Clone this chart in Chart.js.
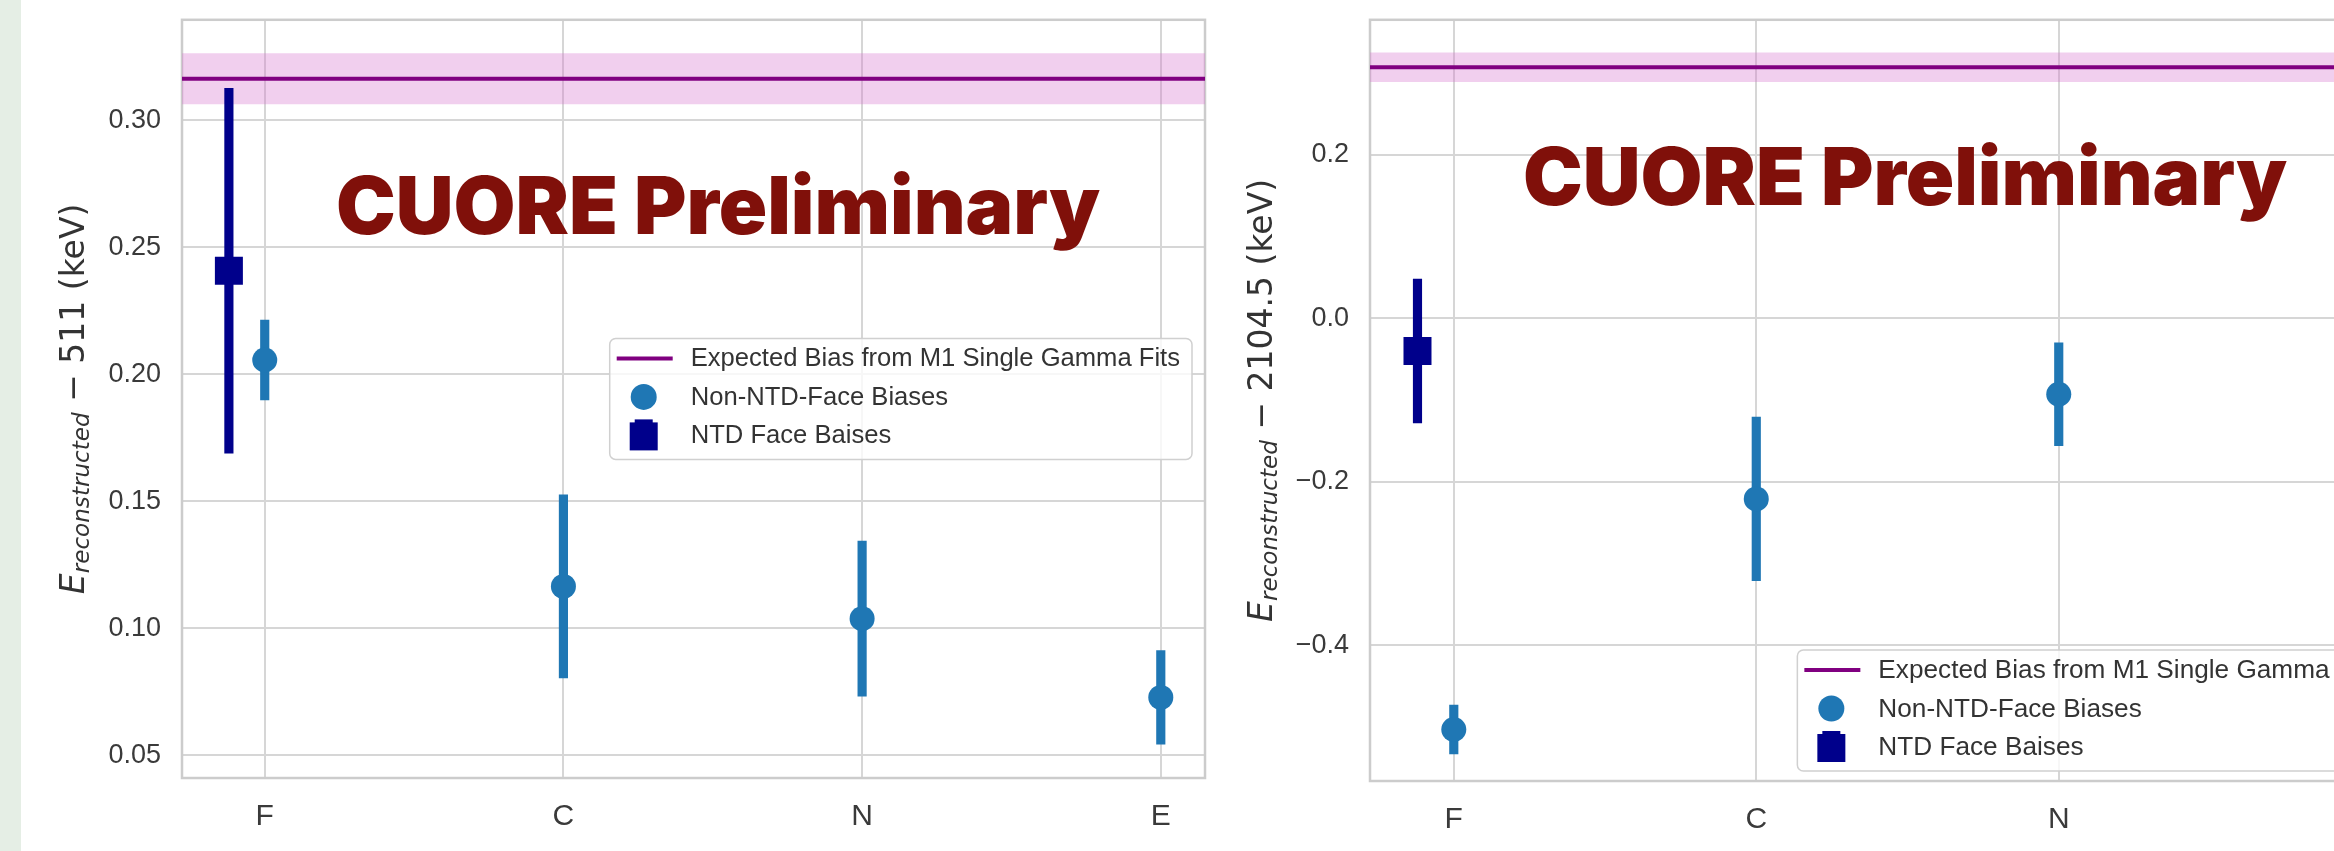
<!DOCTYPE html>
<html>
<head>
<meta charset="utf-8">
<script src="https://cdn.jsdelivr.net/npm/chart.js@4.4.1/dist/chart.umd.min.js"></script>
<style>
  html, body { margin: 0; padding: 0; width: 2334px; height: 851px; overflow: hidden; background: #fff; }
  .strip { position: absolute; left: 0; top: 0; width: 21px; height: 851px; background: #e5eee5; }
  canvas { position: absolute; top: 0; }
  #leftChart { left: 0; }
  #rightChart { left: 1230px; }
  .stamp { position: absolute; font-family: Inter, "Noto Sans", sans-serif; font-weight: 900; font-size: 80px;
           line-height: 80px; color: #80100a; white-space: nowrap; }
  #stampLeft { left: 336px; top: 165px; }
  #stampRight { left: 1523px; top: 136px; }
</style>
</head>
<body>
<div class="strip"></div>
<canvas id="leftChart" width="1230" height="851"></canvas>
<canvas id="rightChart" width="1210" height="851"></canvas>
<div class="stamp" id="stampLeft">CUORE Preliminary</div>
<div class="stamp" id="stampRight">CUORE Preliminary</div>
<script>
// --- data ---
const categories = ['F', 'C', 'N', 'E'];
const ntdCategories = [0];      // NTD face only measured on F
const ntdOffset = -0.12;        // NTD point drawn a little left of its category

// 511 keV line
const bias511 = [0.2056, 0.1165, 0.1038, 0.0728];
const err511 = [0.0157, 0.0360, 0.0305, 0.0184];
const ntdBias511 = [0.2407];
const ntdErr511 = [0.0718];
const expected511 = 0.3163;
const expectedErr511 = 0.0100;
const yTicks511 = [0.05, 0.10, 0.15, 0.20, 0.25, 0.30];

// 2104.5 keV line (E is outside the visible crop)
const bias2104 = [-0.503, -0.221, -0.093];
const err2104 = [0.030, 0.100, 0.063];
const ntdBias2104 = [-0.040];
const ntdErr2104 = [0.088];
const expected2104 = 0.307;
const expectedErr2104 = 0.018;
const yTicks2104 = [-0.4, -0.2, 0.0, 0.2];

const legendLabels = ['Expected Bias from M1 Single Gamma Fits', 'Non-NTD-Face Biases', 'NTD Face Baises'];

// --- colours ---
const PURPLE = '#800080';
const BAND = 'rgba(214,118,206,0.35)';
const LIGHT_BLUE = '#1f77b4';
const NAVY = '#00008b';
const GRID = '#d6d6d6';
const TEXT = '#3a3a3a';
const FONT = '"Liberation Sans", Arial, sans-serif';

Chart.defaults.font.family = FONT;
Chart.defaults.color = TEXT;

// light frame round the plot, like the seaborn spines
const framePlugin = {
    id: 'frame',
    beforeDatasetsDraw(chart) {
        const { ctx, chartArea: a } = chart;
        ctx.save();
        ctx.strokeStyle = '#cccccc';
        ctx.lineWidth = 2.5;
        ctx.strokeRect(a.left, a.top, a.right - a.left, a.bottom - a.top);
        ctx.restore();
    }
};

// legend drawn inside the plot area with a rounded box
const boxLegend = {
    id: 'boxLegend',
    afterDraw(chart, args, opts) {
        const { ctx, chartArea: a } = chart;
        const items = chart.data.datasets.filter(d => d.legendKind);
        ctx.save();
        ctx.font = opts.fontSize + 'px ' + FONT;
        const textW = Math.max(...items.map(d => ctx.measureText(d.label).width));
        const w = 81 + textW + 12;
        const rowH = 38.5;
        const h = 20 + rowH * (items.length - 1) + 24;
        const x = a.right - opts.gap - w;
        const y = opts.loc === 'lower right' ? a.bottom - 10 - h : (a.top + a.bottom) / 2 - h / 2;

        ctx.beginPath();
        ctx.roundRect(x, y, w, h, 6);
        ctx.fillStyle = 'rgba(255,255,255,0.8)';
        ctx.fill();
        ctx.strokeStyle = '#d0d0d0';
        ctx.lineWidth = 1.5;
        ctx.stroke();

        items.forEach((d, i) => {
            const cy = y + 20 + i * rowH;
            const cx = x + 34;
            if (d.legendKind === 'line') {
                ctx.strokeStyle = d.borderColor;
                ctx.lineWidth = 4;
                ctx.beginPath();
                ctx.moveTo(x + 7, cy);
                ctx.lineTo(x + 63, cy);
                ctx.stroke();
            } else if (d.legendKind === 'circle') {
                ctx.fillStyle = d.backgroundColor;
                ctx.beginPath();
                ctx.arc(cx, cy, 13, 0, Math.PI * 2);
                ctx.fill();
            } else {
                ctx.fillStyle = d.backgroundColor;
                ctx.fillRect(cx - 14, cy - 13, 28, 28);
                ctx.fillRect(cx - 9, cy - 16, 18, 4);
            }
            ctx.fillStyle = '#333';
            ctx.textBaseline = 'middle';
            ctx.textAlign = 'left';
            ctx.fillText(d.label, x + 81, cy + 1);
        });
        ctx.restore();
    }
};

// y title with a subscript: E_reconstructed - value (keV)
const mathTitle = {
    id: 'mathTitle',
    afterDraw(chart, args, opts) {
        const { ctx, chartArea: a } = chart;
        const size = opts.size;
        const parts = [
            { t: 'E', f: 'italic ' + size + 'px "DejaVu Sans"', dy: 0 },
            { t: 'reconstructed', f: 'italic ' + (size * 0.7) + 'px "DejaVu Sans"', dy: size * 0.15 },
            { t: ' \u2212 ' + opts.rest, f: size + 'px "DejaVu Sans"', dy: 0 }
        ];
        ctx.save();
        let total = 0;
        parts.forEach(p => { ctx.font = p.f; p.w = ctx.measureText(p.t).width; total += p.w; });
        ctx.translate(a.left - opts.gap, (a.top + a.bottom) / 2);
        ctx.rotate(-Math.PI / 2);
        ctx.fillStyle = '#333';
        ctx.textBaseline = 'alphabetic';
        let px = -total / 2;
        parts.forEach(p => {
            ctx.font = p.f;
            ctx.fillText(p.t, px, p.dy);
            px += p.w;
        });
        ctx.restore();
    }
};

function makeChart(id, c) {
    const xMin = -0.277, xMax = 3.148;
    const edge = (v) => [{ x: xMin, y: v }, { x: xMax, y: v }];
    const datasets = [
        {
            type: 'line', label: legendLabels[0], legendKind: 'line',
            data: edge(c.expected), borderColor: PURPLE, borderWidth: 4,
            pointRadius: 0, order: 2
        },
        {
            type: 'line', label: 'band',
            data: edge(c.expected + c.expectedErr), fill: { value: c.expected - c.expectedErr },
            backgroundColor: BAND, borderWidth: 0, pointRadius: 0, order: 4
        },
        {
            type: 'scatter', label: legendLabels[1], legendKind: 'circle',
            data: c.bias.map((v, i) => ({ x: i, y: v })),
            pointStyle: 'circle', pointRadius: 12.5, backgroundColor: LIGHT_BLUE, borderWidth: 0, order: 0
        },
        {
            type: 'scatter', label: legendLabels[2], legendKind: 'square',
            data: c.ntdBias.map((v, i) => ({ x: ntdCategories[i] + ntdOffset, y: v })),
            pointStyle: 'rect', pointRadius: 19.8, backgroundColor: NAVY, borderWidth: 0, order: 0
        },
        {
            type: 'bar', label: 'err',
            data: c.bias.map((v, i) => ({ x: i, y: [v - c.err[i], v + c.err[i]] })),
            backgroundColor: LIGHT_BLUE, barThickness: 8.5, grouped: false, order: 1
        },
        {
            type: 'bar', label: 'ntd err',
            data: c.ntdBias.map((v, i) => ({ x: ntdCategories[i] + ntdOffset, y: [v - c.ntdErr[i], v + c.ntdErr[i]] })),
            backgroundColor: NAVY, barThickness: 8.5, grouped: false, order: 1
        }
    ];

    return new Chart(document.getElementById(id), {
        type: 'scatter',
        data: { datasets },
        plugins: [framePlugin, boxLegend, mathTitle],
        options: {
            responsive: false,
            animation: false,
            devicePixelRatio: 1,
            layout: { padding: { left: 0, top: c.top, right: c.right, bottom: 0 } },
            plugins: {
                legend: { display: false },
                tooltip: { enabled: false },
                boxLegend: { loc: c.legendLoc, gap: c.legendGap, fontSize: c.legendSize },
                mathTitle: { size: 33, gap: 98, rest: c.titleRest }
            },
            scales: {
                x: {
                    type: 'linear', min: xMin, max: xMax, offset: false,
                    afterBuildTicks: s => { s.ticks = categories.map((cat, i) => ({ value: i })); },
                    afterFit: s => { s.height = c.xHeight; s.paddingLeft = 0; s.paddingRight = 0; },
                    ticks: { callback: v => categories[v], font: { size: 30 }, padding: 21, autoSkip: false, maxRotation: 0 },
                    grid: { color: GRID, lineWidth: 2, drawTicks: false, offset: false },
                    border: { display: false }
                },
                y: {
                    type: 'linear', min: c.yMin, max: c.yMax, offset: false,
                    afterBuildTicks: s => { s.ticks = c.yTicks.map(v => ({ value: v })); },
                    afterFit: s => { s.width = c.yWidth; s.paddingTop = 0; s.paddingBottom = 0; },
                    ticks: { callback: c.fmt, font: { size: 27 }, padding: 21, autoSkip: false },
                    grid: { color: GRID, lineWidth: 2, drawTicks: false, offset: false },
                    border: { display: false }
                }
            }
        }
    });
}

makeChart('leftChart', {
    bias: bias511, err: err511, ntdBias: ntdBias511, ntdErr: ntdErr511,
    expected: expected511, expectedErr: expectedErr511, yTicks: yTicks511,
    yMin: 0.0411, yMax: 0.3395, fmt: v => v.toFixed(2),
    titleRest: '511 (keV)', legendLoc: 'center right', legendGap: 13, legendSize: 25.6,
    top: 19, right: 25, yWidth: 182, xHeight: 73
});

makeChart('rightChart', {
    bias: bias2104, err: err2104, ntdBias: ntdBias2104, ntdErr: ntdErr2104,
    expected: expected2104, expectedErr: expectedErr2104, yTicks: yTicks2104,
    yMin: -0.566, yMax: 0.365, fmt: v => v.toFixed(1).replace('-', '\u2212'),
    titleRest: '2104.5 (keV)', legendLoc: 'lower right', legendGap: 15, legendSize: 26.2,
    top: 11, right: 34, yWidth: 140, xHeight: 70
});
</script>
</body>
</html>
